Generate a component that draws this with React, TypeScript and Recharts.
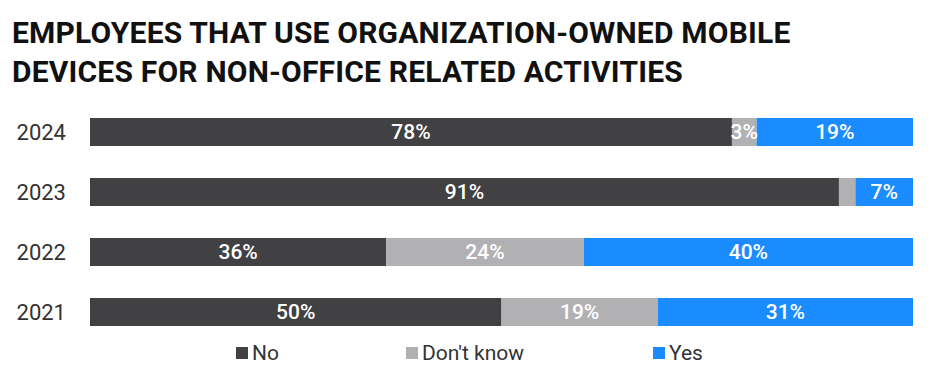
import { BarChart, Bar, XAxis, YAxis, LabelList } from "recharts";

const years = ["2024", "2023", "2022", "2021"];
const noValues = [78, 91, 36, 50];
const dontKnowValues = [3, 2, 24, 19];
const yesValues = [19, 7, 40, 31];

const series = [
  { key: "no", name: "No", fill: "#414042" },
  { key: "dk", name: "Don't know", fill: "#b1b0b3" },
  { key: "yes", name: "Yes", fill: "#1a8cff" },
];

const data = years.map((year, i) => ({
  year,
  no: noValues[i],
  dk: dontKnowValues[i],
  yes: yesValues[i],
}));

const font = "Roboto, 'Noto Sans', sans-serif";

const pctLabel = (v: any) => (Number(v) >= 3 ? `${v}%` : "");

export default function App() {
  return (
    <div
      style={{
        position: "absolute",
        left: 0,
        top: 0,
        width: 950,
        height: 388,
        background: "#fff",
        fontFamily: font,
      }}
    >
      <div
        style={{
          position: "absolute",
          left: 12,
          top: 13,
          fontSize: 30,
          fontWeight: 700,
          lineHeight: "39px",
          color: "#111",
          letterSpacing: 0.2,
          whiteSpace: "nowrap",
        }}
      >
        EMPLOYEES THAT USE ORGANIZATION-OWNED MOBILE
        <br />
        DEVICES FOR NON-OFFICE RELATED ACTIVITIES
      </div>
      <BarChart
        width={950}
        height={388}
        data={data}
        layout="vertical"
        margin={{ top: 102, right: 37, bottom: 46, left: 0 }}
        barSize={28}
        style={{ position: "absolute", left: 0, top: 0 }}
      >
        <XAxis type="number" domain={[0, 100]} hide />
        <YAxis
          type="category"
          dataKey="year"
          width={90}
          axisLine={false}
          tickLine={false}
          tickSize={0}
          tickMargin={24}
          tick={{ fontSize: 22, fill: "#333", fontFamily: font }}
        />
        {series.map((s) => (
          <Bar
            key={s.key}
            dataKey={s.key}
            name={s.name}
            stackId="a"
            fill={s.fill}
            isAnimationActive={false}
          >
            <LabelList
              dataKey={s.key}
              position="center"
              formatter={pctLabel}
              fill="#fff"
              style={{ fontSize: 21, fontWeight: 500, fontFamily: font }}
            />
          </Bar>
        ))}
      </BarChart>
      <div
        style={{
          position: "absolute",
          top: 339,
          left: 0,
          width: 950,
          height: 28,
          fontSize: 21,
          color: "#333",
        }}
      >
        {series.map((s, i) => (
          <div
            key={s.key}
            style={{
              position: "absolute",
              left: [236, 406, 653][i],
              top: 0,
              display: "flex",
              alignItems: "center",
              height: 28,
              whiteSpace: "nowrap",
            }}
          >
            <span
              style={{
                display: "inline-block",
                width: 12,
                height: 12,
                background: s.fill,
                marginRight: 4,
              }}
            />
            {s.name}
          </div>
        ))}
      </div>
    </div>
  );
}
